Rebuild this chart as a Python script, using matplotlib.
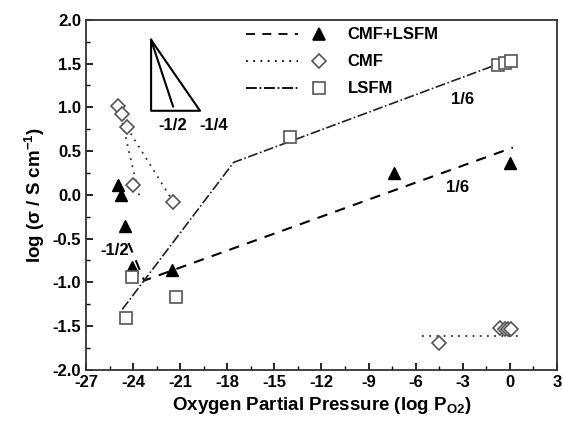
import numpy as np
import matplotlib.pyplot as plt

plt.rcParams['font.family'] = ['Liberation Sans', 'DejaVu Sans']
plt.rcParams['font.weight'] = 'bold'
plt.rcParams['axes.unicode_minus'] = False
plt.rcParams['mathtext.fontset'] = 'custom'
plt.rcParams['mathtext.rm'] = 'Liberation Sans:bold'
plt.rcParams['mathtext.it'] = 'Liberation Sans:bold'
plt.rcParams['mathtext.bf'] = 'Liberation Sans:bold'

# CMF+LSFM (filled triangles)
tri_x = [-25.0, -24.8, -24.5, -24.05, -21.5, -7.4, 0.0]
tri_y = [0.11, 0.0, -0.36, -0.82, -0.86, 0.25, 0.36]
tri_fit_x = [-24.3, -23.3, 0.2]
tri_fit_y = [-0.55, -0.98, 0.54]

# CMF (open diamonds)
dia_x = [-24.95, -24.7, -24.4, -24.0, -21.45, -4.5, -0.6, -0.3, -0.1, 0.1]
dia_y = [1.01, 0.92, 0.77, 0.11, -0.08, -1.69, -1.52, -1.53, -1.53, -1.53]
dia_fit1_x = [-24.9, -23.6]
dia_fit1_y = [0.98, -0.02]
dia_fit2_x = [-24.4, -21.45]
dia_fit2_y = [0.77, -0.08]
dia_fit3_x = [-5.6, 0.6]
dia_fit3_y = [-1.61, -1.61]

# LSFM (open squares)
sq_x = [-24.45, -24.05, -21.3, -14.0, -0.75, -0.3, 0.1]
sq_y = [-1.41, -0.94, -1.17, 0.66, 1.48, 1.51, 1.53]
sq_fit_x = [-24.7, -17.6, 0.1]
sq_fit_y = [-1.31, 0.37, 1.55]

fig = plt.figure(figsize=(5.63, 4.30), dpi=100)
ax = fig.add_axes([0.153, 0.14, 0.836, 0.814])

ax.plot(tri_fit_x, tri_fit_y, color='black', ls=(0, (5, 4)), lw=1.5)
ax.plot(dia_fit1_x, dia_fit1_y, color='#333333', ls=(0, (1, 3)), lw=1.3)
ax.plot(dia_fit2_x, dia_fit2_y, color='#333333', ls=(0, (1, 3)), lw=1.3)
ax.plot(dia_fit3_x, dia_fit3_y, color='#333333', ls=(0, (1, 3)), lw=1.3)
ax.plot(sq_fit_x, sq_fit_y, color='#222222', ls=(0, (6, 1.5, 1, 1.5)), lw=1.2)

ax.plot(tri_x, tri_y, ls='none', marker='^', ms=9, color='black')
ax.plot(dia_x, dia_y, ls='none', marker='D', ms=7, mfc='white', mec='#555555', mew=1.2)
ax.plot(sq_x, sq_y, ls='none', marker='s', ms=9, mfc='white', mec='#555555', mew=1.2)

# legend drawn by hand in axes coords
leg = [('CMF+LSFM', (0, (5, 4)), '^', 'black'),
       ('CMF', (0, (1, 3)), 'D', 'white'),
       ('LSFM', (0, (6, 1.5, 1, 1.5)), 's', 'white')]
for i, (lab, ls, mk, fc) in enumerate(leg):
    yy = 0.959 - i * 0.077
    ax.plot([0.34, 0.45], [yy, yy], transform=ax.transAxes, color='black', ls=ls, lw=1.3)
    ax.plot([0.495], [yy], transform=ax.transAxes, ls='none', marker=mk,
            ms=8 if mk != 'D' else 7, mfc=fc, mec='black' if fc == 'black' else '#555555', mew=1.2)
    ax.text(0.556, yy, lab, transform=ax.transAxes, va='center', ha='left', fontsize=12, fontweight='bold')

# slope triangle
ax.plot([-22.86, -22.86, -19.74, -22.86], [1.77, 0.96, 0.96, 1.77], color='black', lw=1.5)
ax.plot([-22.86, -21.46], [1.77, 1.01], color='black', lw=1.5)
ax.text(-21.46, 0.79, '-1/2', ha='center', va='center', fontsize=12, fontweight='bold')
ax.text(-18.9, 0.79, '-1/4', ha='center', va='center', fontsize=12, fontweight='bold')
ax.text(-25.15, -0.64, '-1/2', ha='center', va='center', fontsize=12, fontweight='bold')
ax.text(-3.0, 1.09, '1/6', ha='center', va='center', fontsize=12, fontweight='bold')
ax.text(-3.3, 0.08, '1/6', ha='center', va='center', fontsize=12, fontweight='bold')

ax.set_xlim(-27, 3)
ax.set_ylim(-2, 2)
ax.set_xticks(np.arange(-27, 4, 3))
ax.set_xticks(np.arange(-25.5, 3, 3), minor=True)
ax.set_yticks(np.arange(-2, 2.01, 0.5))
ax.set_yticks(np.arange(-1.75, 2, 0.5), minor=True)
ax.set_yticklabels(['%.1f' % v for v in np.arange(-2, 2.01, 0.5)])
ax.tick_params(direction='in', labelsize=12, width=1.2, length=5)
ax.tick_params(which='minor', direction='in', width=1.0, length=3)
for lbl in ax.get_xticklabels() + ax.get_yticklabels():
    lbl.set_fontweight('bold')
for s in ax.spines.values():
    s.set_linewidth(1.3)
    s.set_color('#333333')

ax.set_xlabel(r'Oxygen Partial Pressure (log P$_{\mathrm{O2}}$)', fontsize=13.5, fontweight='bold')
ax.set_ylabel(r'log ($\sigma$ / S cm$^{\mathrm{-1}}$)', fontsize=13.5, fontweight='bold')

fig.savefig('out.png', dpi=100)
